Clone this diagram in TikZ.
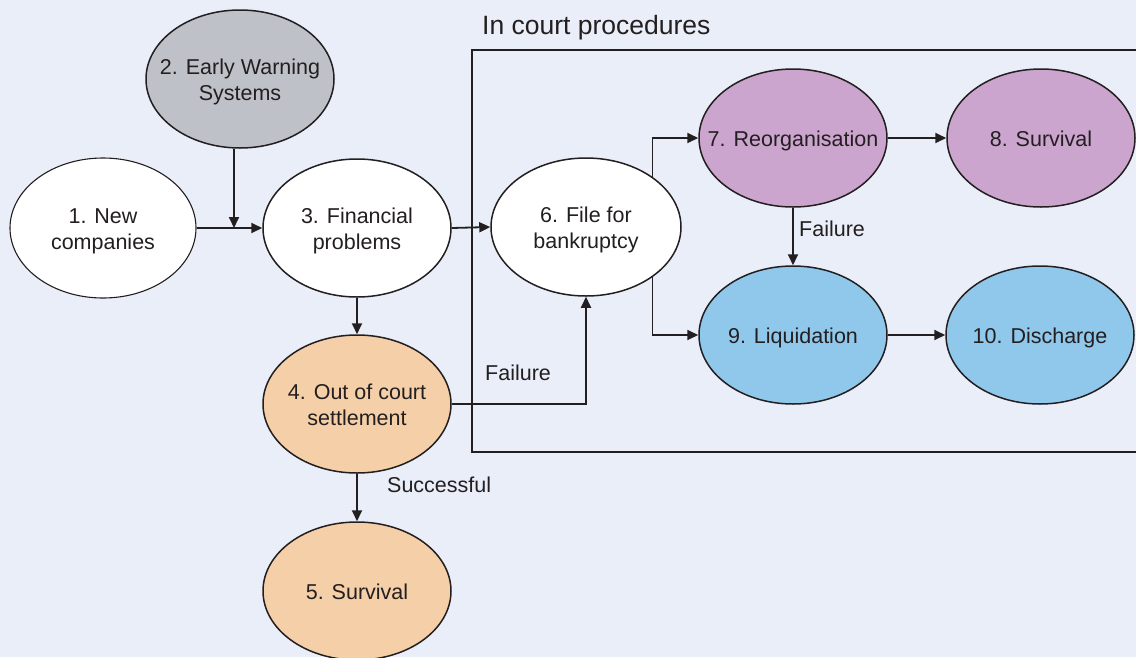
\documentclass[tikz,border=0pt]{standalone}
\usepackage{fontspec}
\setmainfont{Liberation Sans}
\usetikzlibrary{shapes.geometric,arrows.meta}
\definecolor{bg}{RGB}{233,238,248}
\definecolor{ink}{RGB}{35,31,32}
\definecolor{greyfill}{RGB}{190,193,199}
\definecolor{purplefill}{RGB}{203,165,205}
\definecolor{bluefill}{RGB}{144,200,236}
\definecolor{peachfill}{RGB}{245,207,167}
\newcommand{\elltext}[1]{\raisebox{-3pt}[\height][\depth]{\makebox[0pt][c]{\begin{tabular}{@{}c@{}}#1\end{tabular}}}}
\tikzset{
  ell/.style={ellipse, draw=ink, line width=1.5pt, inner sep=0pt,
    minimum width=188pt, minimum height=138pt, text=ink,
    font=\fontsize{21.5}{26}\selectfont},
  conn/.style={draw=ink, line width=1.8pt, -{Triangle[length=11pt,width=10pt]}},
  lbl/.style={text=ink, font=\fontsize{21.5}{26}\selectfont, inner sep=0pt},
}
\begin{document}
\begin{tikzpicture}[x=1pt,y=-1pt]
\fill[bg] (0,0) rectangle (1136,657);
\useasboundingbox (0,0) rectangle (1136,657);
\clip (0,0) rectangle (1136,657);
% in-court box
\node[lbl, anchor=base west, font=\fontsize{26.5}{30}\selectfont] (title) at (482,34) {In court procedures};
\draw[ink, line width=1.6pt] (1145,50) -- (472,50) -- (472,452) -- (1145,452);
% ellipses
\node[ell, fill=white, line width=1.1pt, minimum width=186pt, minimum height=140pt] (n1) at (103,228) {\elltext{1. New\\companies}};
\node[ell, fill=greyfill] (n2) at (240,79) {\elltext{2. Early Warning\\Systems}};
\node[ell, fill=white] (n3) at (357,228) {\elltext{3. Financial\\problems}};
\node[ell, fill=peachfill] (n4) at (357,404) {\elltext{4. Out of court\\settlement}};
\node[ell, fill=peachfill] (n5) at (357,591) {\elltext{5. Survival}};
\node[ell, fill=white, minimum width=190pt] (n6) at (586,227) {\elltext{6. File for\\bankruptcy}};
\node[ell, fill=purplefill] (n7) at (793,138) {\elltext{7. Reorganisation}};
\node[ell, fill=purplefill] (n8) at (1041,138) {\elltext{8. Survival}};
\node[ell, fill=bluefill] (n9) at (793,335) {\elltext{9. Liquidation}};
\node[ell, fill=bluefill] (n10) at (1040,335) {\elltext{10. Discharge}};
% connectors
\coordinate (j) at (234,228);
\draw[conn] (n1.east) -- (n3.west);
\draw[conn] (j |- n2.south) -- (j);
\draw[conn] (n3.east) -- (n6.west);
\draw[conn] (n3.south) -- (n4.north);
\draw[conn] (n4.south) -- (n5.north);
\draw[conn] (n4.east) -| (n6.south);
\draw[conn] (n6.37) |- (n7.west);
\draw[conn] (n6.-37) |- (n9.west);
\draw[conn] (n7.east) -- (n8.west);
\draw[conn] (n7.south) -- (n9.north);
\draw[conn] (n9.east) -- (n10.west);
% labels
\node[lbl, anchor=base west] (lf1) at (485,380) {Failure};
\node[lbl, anchor=base west] (ls) at (387,492) {Successful};
\node[lbl, anchor=base west] (lf2) at (799,236) {Failure};
\end{tikzpicture}
\end{document}
